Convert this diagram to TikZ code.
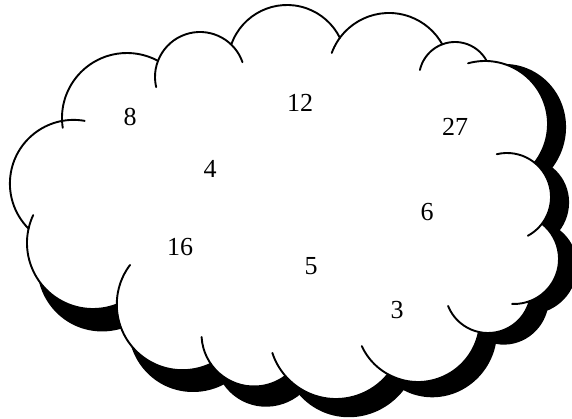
\documentclass[tikz,border=0pt]{standalone}
\usepackage{fontspec}
\setmainfont{Liberation Serif}
\begin{document}
\begin{tikzpicture}[
    x=1pt,
    y=1pt,
    num/.style={font=\fontsize{26}{30}\selectfont, inner sep=0pt},
    rim/.style={line width=1.9pt, line cap=round}
]
\useasboundingbox (0,0) rectangle (572,419);
\clip (0,0) rectangle (572,419);
% Bumps: centre x / centre y / radius / start angle / end angle
\def\bumps{73.6/235.4/63.7/80/225.1, 127/301/65/188.7/61.5, 200/342/45/193/19.2,
    287/355/59/160.8/26.3, 389/345/61/159.8/29, 455/341/36/167.1/28.1,
    485/295/63/105.6/-37.9, 507/222/44/103.4/-61.7, 514/160/45/51.7/-92.5,
    488/129/43/201.8/345, 418/99/62/204.9/348.8, 336/87/67/198.2/320.9,
    254/85/52.5/183.3/306.7, 182.5/114.5/65.7/143/295.4, 93/176/66/155/291.1}
% Shadow (right and lower bumps)
\begin{scope}[cm={1.0154,0.0293,0,1.0323,(9.6pt,-28.7pt)}]
\foreach \cx/\cy/\r in {485/295/63, 507/222/44, 514/160/45, 488/129/43, 418/99/62,
    336/87/67, 254/85/52.5, 182.5/114.5/65.7, 93/176/66} {
    \fill[black] (\cx,\cy) circle[radius=\r];
}
\end{scope}
% Cloud body
\fill[white] (73.6,235.4) -- (127,301) -- (200,342) -- (287,355) -- (389,345) -- (455,341)
    -- (485,295) -- (507,222) -- (514,160) -- (488,129) -- (418,99) -- (336,87)
    -- (254,85) -- (182.5,114.5) -- (93,176) -- cycle;
\foreach \cx/\cy/\r/\a/\b in \bumps {
    \fill[white] (\cx,\cy) circle[radius=\r];
}
% Outline
\foreach \cx/\cy/\r/\a/\b in \bumps {
    \draw[rim] (\cx,\cy) ++(\a:\r) arc[start angle=\a, end angle=\b, radius=\r];
}
% Numbers
\node[num] (n8) at (130,302) {8};
\node[num] (n12) at (300,316) {12};
\node[num] (n27) at (455,292) {27};
\node[num] (n4) at (210,250) {4};
\node[num] (n6) at (427,207) {6};
\node[num] (n16) at (180,172) {16};
\node[num] (n5) at (311,153) {5};
\node[num] (n3) at (397,109) {3};
\end{tikzpicture}
\end{document}
